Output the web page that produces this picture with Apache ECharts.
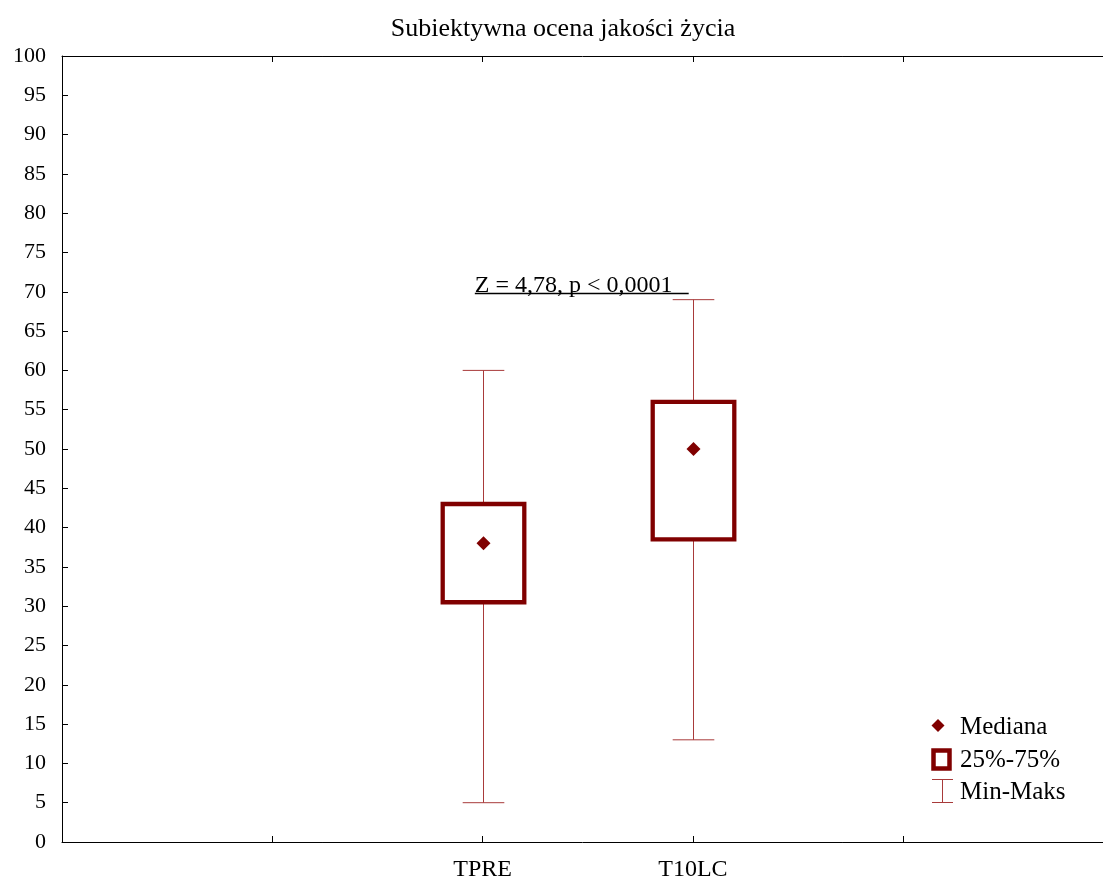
<!DOCTYPE html>
<html>
<head>
<meta charset="utf-8">
<title>Subiektywna ocena jakości życia</title>
<script src="https://cdn.jsdelivr.net/npm/echarts@6/dist/echarts.min.js"></script>
<style>
  html, body { margin: 0; padding: 0; background: #fff; }
  #chart { width: 1103px; height: 883px; }
</style>
</head>
<body>
<div id="chart"></div>
<script>
// Groups and their summary statistics
const categories = ['TPRE', 'T10LC'];
const slotIndex = [2, 3];              // slot of each group on the x axis
const minValues = [5, 13];
const q1Values = [30.5, 38.5];
const medianValues = [38, 50];
const q3Values = [43, 56];
const maxValues = [60, 69];

// Wilcoxon test result drawn above the groups
const testLabel = 'Z = 4,78, p < 0,0001 ';
const testLevel = 70;

const FONT = '"Liberation Serif", "Times New Roman", serif';
const BOX_COLOR = '#800000';
const WHISKER_COLOR = '#a83a3a';
const X_MAX = 4.95;                    // plot runs up to the right edge of the page

const boxData = categories.map((c, i) => [
  slotIndex[i], minValues[i], q1Values[i], medianValues[i], q3Values[i], maxValues[i]
]);

function renderBox(params, api) {
  const x = api.value(0);
  const unit = api.size([1, 0])[0];
  const halfBox = unit * 0.194;
  const halfCap = unit * 0.099;
  const pMin = api.coord([x, api.value(1)]);
  const pQ1 = api.coord([x, api.value(2)]);
  const pMed = api.coord([x, api.value(3)]);
  const pQ3 = api.coord([x, api.value(4)]);
  const pMax = api.coord([x, api.value(5)]);
  const cx = Math.round(pMin[0]) + 0.5;
  const thin = { stroke: WHISKER_COLOR, lineWidth: 1 };
  const r = 7;
  return {
    type: 'group',
    children: [
      { type: 'line', shape: { x1: cx, y1: pMin[1], x2: cx, y2: pMax[1] }, style: thin },
      { type: 'line', shape: { x1: cx - halfCap, y1: pMin[1], x2: cx + halfCap, y2: pMin[1] }, style: thin },
      { type: 'line', shape: { x1: cx - halfCap, y1: pMax[1], x2: cx + halfCap, y2: pMax[1] }, style: thin },
      {
        type: 'rect',
        shape: { x: cx - halfBox, y: pQ3[1], width: halfBox * 2, height: pQ1[1] - pQ3[1] },
        style: { fill: '#fff', stroke: BOX_COLOR, lineWidth: 4.3 }
      },
      {
        type: 'polygon',
        shape: { points: [[cx, pMed[1] - r], [cx + r, pMed[1]], [cx, pMed[1] + r], [cx - r, pMed[1]]] },
        style: { fill: BOX_COLOR }
      }
    ]
  };
}

function renderTest(params, api) {
  const a = api.coord([1.963, api.value(0)]);
  const b = api.coord([2.98, api.value(0)]);
  const y = Math.round(a[1]) + 1.5;
  return {
    type: 'group',
    children: [
      { type: 'line', shape: { x1: a[0], y1: y, x2: b[0], y2: y }, style: { stroke: '#000', lineWidth: 1.3 } },
      {
        type: 'text',
        x: a[0], y: y + 4,
        style: {
          text: testLabel, font: '24px ' + FONT, fill: '#000',
          align: 'left', verticalAlign: 'bottom'
        }
      }
    ]
  };
}

const chart = echarts.init(document.getElementById('chart'), null, { renderer: 'canvas' });

const axisLine = { show: true, lineStyle: { color: '#000', width: 1 } };
const innerTicks = { show: true, inside: true, length: 6, lineStyle: { color: '#000' } };

chart.setOption({
  animation: false,
  backgroundColor: '#fff',
  title: {
    text: 'Subiektywna ocena jakości życia',
    left: 558,
    textAlign: 'center',
    top: 11,
    textStyle: { fontFamily: FONT, fontSize: 26, fontWeight: 'normal', color: '#000' }
  },
  grid: { left: 62, right: 0, top: 56, bottom: 41, containLabel: false },
  xAxis: [
    {
      type: 'value', min: 0, max: X_MAX, interval: 1,
      axisLine: axisLine,
      axisTick: innerTicks,
      splitLine: { show: false },
      axisLabel: {
        fontFamily: FONT, fontSize: 24, color: '#000', margin: 16, showMaxLabel: false,
        formatter: v => { const i = slotIndex.indexOf(v); return i >= 0 ? categories[i] : ''; }
      }
    },
    {
      type: 'value', position: 'top', min: 0, max: X_MAX, interval: 1,
      axisLine: axisLine,
      axisTick: innerTicks,
      splitLine: { show: false },
      axisLabel: { show: false }
    }
  ],
  yAxis: {
    type: 'value', min: 0, max: 100, interval: 5,
    axisLine: axisLine,
    axisTick: innerTicks,
    splitLine: { show: false },
    axisLabel: { fontFamily: FONT, fontSize: 22, color: '#000', margin: 16 }
  },
  series: [
    {
      type: 'custom',
      renderItem: renderBox,
      encode: { x: 0, y: [1, 2, 3, 4, 5] },
      data: boxData,
      z: 3
    },
    {
      type: 'custom',
      renderItem: renderTest,
      encode: { y: 0 },
      data: [[testLevel]],
      z: 4
    }
  ],
  graphic: [
    // legend
    {
      type: 'polygon',
      shape: { points: [[938, 719], [944.5, 725.5], [938, 732], [931.5, 725.5]] },
      style: { fill: BOX_COLOR }
    },
    {
      type: 'text', x: 960, y: 727,
      style: { text: 'Mediana', font: '25px ' + FONT, fill: '#000', verticalAlign: 'middle' }
    },
    {
      type: 'rect',
      shape: { x: 933.5, y: 750.5, width: 16, height: 18 },
      style: { fill: '#fff', stroke: BOX_COLOR, lineWidth: 4.5 }
    },
    {
      type: 'text', x: 960, y: 760,
      style: { text: '25%-75%', font: '25px ' + FONT, fill: '#000', verticalAlign: 'middle' }
    },
    { type: 'line', shape: { x1: 932, y1: 779.5, x2: 953, y2: 779.5 }, style: { stroke: WHISKER_COLOR, lineWidth: 1 } },
    { type: 'line', shape: { x1: 932, y1: 802.5, x2: 953, y2: 802.5 }, style: { stroke: WHISKER_COLOR, lineWidth: 1 } },
    { type: 'line', shape: { x1: 942.5, y1: 779.5, x2: 942.5, y2: 802.5 }, style: { stroke: WHISKER_COLOR, lineWidth: 1 } },
    {
      type: 'text', x: 960, y: 792,
      style: { text: 'Min-Maks', font: '25px ' + FONT, fill: '#000', verticalAlign: 'middle' }
    }
  ]
});
</script>
</body>
</html>
